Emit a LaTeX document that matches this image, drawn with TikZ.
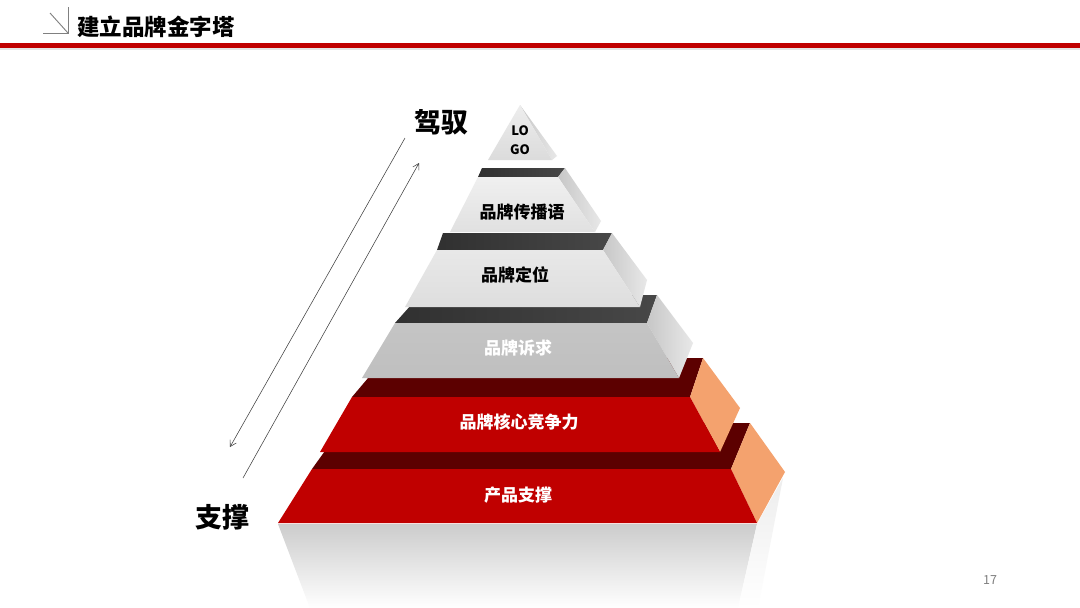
\documentclass[tikz,border=0pt]{standalone}
\usepackage{fontspec}
\setmainfont{Noto Sans CJK SC}
\usetikzlibrary{arrows.meta}
\definecolor{brandred}{HTML}{C00000}
\definecolor{darkred}{HTML}{5C0000}
\definecolor{sideorange}{HTML}{F4A26E}
\definecolor{strip}{HTML}{333333}
\definecolor{iconGray}{HTML}{808080}
\tikzset{
  lbl/.style={font=\fontsize{17}{17}\selectfont\bfseries, inner sep=0pt},
  biglbl/.style={font=\fontsize{27}{27}\selectfont\bfseries, inner sep=0pt},
  graystrip/.style={left color=strip!95!black, right color=strip!90!white},
  grayside/.style={left color=black!22, right color=black!9},
  redstrip/.style={fill=darkred},
  redside/.style={fill=sideorange},
  guide/.style={draw=black!75, line width=0.55pt, -{Straight Barb[length=6pt,width=7pt,line width=0.55pt]}}
}
\begin{document}
\begin{tikzpicture}[x=1pt,y=-1pt]
\useasboundingbox (0,0) rectangle (1080,608);
\fill[white] (0,0) rectangle (1080,608);

% header
\draw[iconGray, line width=0.9pt] (50,13) -- (68,33);
\draw[iconGray, line width=0.9pt] (68,7) -- (68,33) -- (43,33);
\node[anchor=west, inner sep=0pt, font=\fontsize{22.5}{22.5}\selectfont\bfseries] (title) at (77,27) {建立品牌金字塔};
\fill[black!10] (0,47.5) rectangle (1080,50);
\fill[brandred] (0,43) rectangle (1080,48);

% reflection
\shade[top color=black!20, bottom color=white] (278,524) -- (757,524) -- (738,608) -- (310,608) -- cycle;
\shade[top color=black!7, bottom color=white] (757,524) -- (783,478) -- (758,608) -- (738,608) -- cycle;

% tier 6
\fill[redstrip] (312,469) -- (731,469) -- (750,423) -- (345,423) -- cycle;
\fill[redside] (731,469) -- (750,423) -- (785,472) -- (757,523) -- cycle;
\fill[brandred] (312,469) -- (731,469) -- (757,523) -- (278,523) -- cycle;

% tier 5
\fill[redstrip] (352,397) -- (690,397) -- (703,358) -- (385,358) -- cycle;
\fill[redside] (690,397) -- (703,358) -- (740,408) -- (720,452) -- cycle;
\fill[brandred] (352,397) -- (690,397) -- (720,452) -- (320,452) -- cycle;

% tier 4
\shade[graystrip] (395,323) -- (647,323) -- (657,295) -- (420,295) -- cycle;
\shade[grayside] (647,323) -- (657,295) -- (693,343) -- (679,378) -- cycle;
\shade[top color=black!23, bottom color=black!25] (395,323) -- (647,323) -- (679,378) -- (362,378) -- cycle;

% tier 3
\shade[graystrip] (437,250) -- (603,250) -- (612,233) -- (443,233) -- cycle;
\shade[grayside] (603,250) -- (612,233) -- (647,280) -- (640,307) -- cycle;
\shade[top color=black!9, bottom color=black!13] (437,250) -- (603,250) -- (640,307) -- (405,307) -- cycle;

% tier 2
\shade[graystrip] (478,177) -- (558,177) -- (565,168) -- (482,168) -- cycle;
\shade[grayside] (558,177) -- (565,168) -- (601,221) -- (595,232) -- cycle;
\shade[top color=black!6, bottom color=black!12] (478,177) -- (558,177) -- (595,232) -- (450,232) -- cycle;

% tier 1
\shade[grayside] (520,105) -- (557,156) -- (552,160) -- cycle;
\shade[top color=black!7, bottom color=black!14] (520,105) -- (552,160) -- (488,160) -- cycle;

% labels
\node[inner sep=0pt, font=\fontsize{13}{13}\selectfont\bfseries] (lo) at (520,131) {LO};
\node[inner sep=0pt, font=\fontsize{13}{13}\selectfont\bfseries] (go) at (520,150) {GO};
\node[lbl] (t2) at (522,212) {品牌传播语};
\node[lbl] (t3) at (515,275) {品牌定位};
\node[lbl, text=white] (t4) at (518,348) {品牌诉求};
\node[lbl, text=white] (t5) at (519,422) {品牌核心竞争力};
\node[lbl, text=white] (t6) at (518,495) {产品支撑};

\node[biglbl] (top) at (441,122) {驾驭};
\node[biglbl] (bottom) at (222,517) {支撑};

% guide arrows
\coordinate (a1s) at (405,138);
\coordinate (a1e) at (230,447);
\coordinate (a2s) at (243,478);
\coordinate (a2e) at (419,163);
\draw[guide] (a1s) -- (a1e);
\draw[guide] (a2s) -- (a2e);

% page number
\node[inner sep=0pt, text=black!50, font=\fontsize{12.5}{12.5}\selectfont] (page) at (990,580) {17};
\end{tikzpicture}
\end{document}
